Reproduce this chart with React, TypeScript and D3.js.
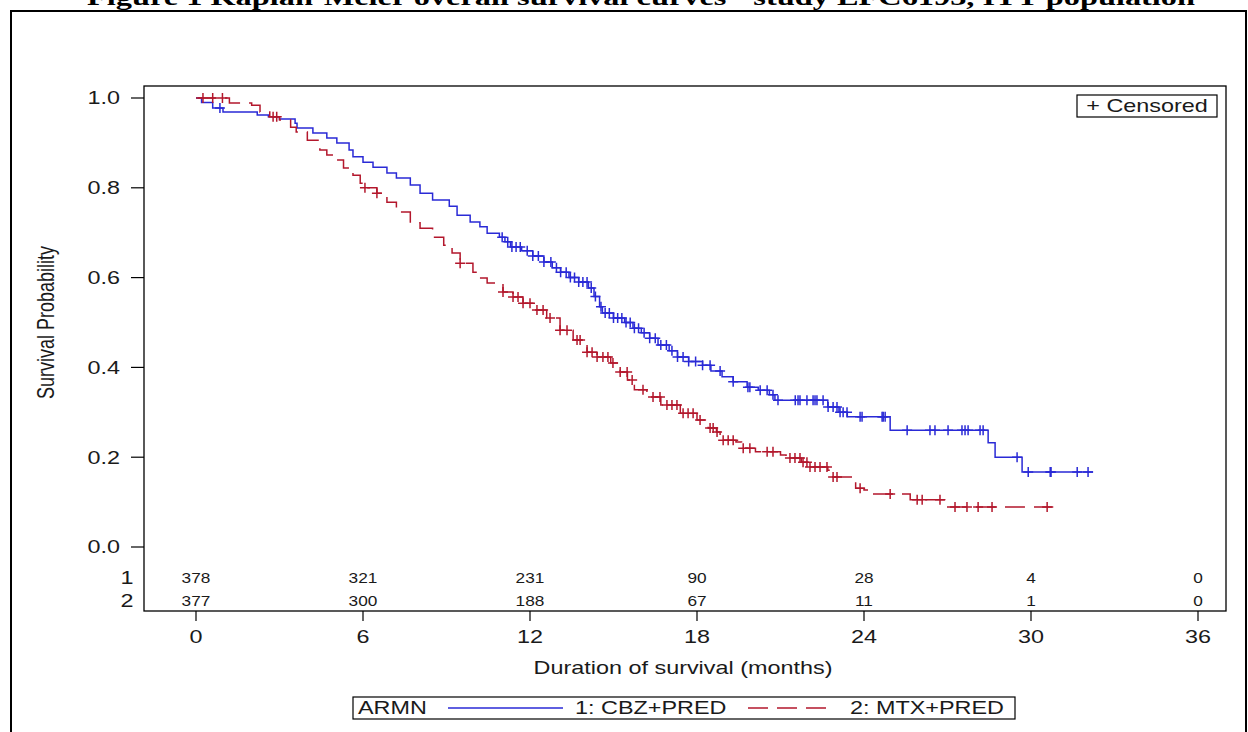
import React from "react";
import * as d3 from "d3";

// ---- data ----
const monthTicks = [0, 6, 12, 18, 24, 30, 36];
const survTicks = [0, 0.2, 0.4, 0.6, 0.8, 1.0];
const atRisk1 = [378, 321, 231, 90, 28, 4, 0];
const atRisk2 = [377, 300, 188, 67, 11, 1, 0];

// Arm 1: CBZ+PRED, step times (months) and survival after each step
const cbzTimes = [0, 0.2, 0.6, 0.97, 2.2, 2.6, 3.0, 3.56, 3.63, 4.2, 4.7, 5.06, 5.5, 5.64, 6.0, 6.36, 6.86, 7.2, 7.7, 8.05, 8.5, 9.1, 9.38, 9.85, 10.2, 10.46, 10.9, 11.1, 11.3, 11.7, 12.1, 12.5, 12.8, 13.1, 13.4, 13.75, 14.1, 14.3, 14.5, 14.6, 15.0, 15.4, 15.7, 16.0, 16.3, 16.6, 17.0, 17.3, 17.7, 18.2, 18.5, 18.9, 19.3, 19.8, 20.2, 20.6, 20.8, 22.7, 23.1, 23.4, 24.94, 28.46, 28.71, 29.68];
const cbzSurv = [1.0, 0.99, 0.978, 0.969, 0.962, 0.958, 0.953, 0.944, 0.933, 0.922, 0.911, 0.9, 0.884, 0.869, 0.857, 0.846, 0.833, 0.822, 0.806, 0.788, 0.773, 0.759, 0.739, 0.724, 0.713, 0.699, 0.69, 0.68, 0.668, 0.66, 0.648, 0.635, 0.622, 0.612, 0.6, 0.59, 0.577, 0.558, 0.535, 0.521, 0.51, 0.5, 0.487, 0.477, 0.465, 0.45, 0.437, 0.423, 0.413, 0.405, 0.392, 0.379, 0.368, 0.356, 0.349, 0.339, 0.327, 0.312, 0.3, 0.29, 0.26, 0.232, 0.2, 0.167];
const cbzEnd = 32.23;
const cbzCensored = [0.86, 11.0, 11.2, 11.35, 11.5, 11.65, 11.9, 12.1, 12.3, 12.5, 12.75, 12.95, 13.1, 13.3, 13.45, 13.6, 13.75, 13.9, 14.05, 14.2, 14.35, 14.55, 14.7, 14.85, 15.0, 15.15, 15.3, 15.45, 15.6, 15.75, 15.9, 16.1, 16.3, 16.5, 16.7, 16.9, 17.1, 17.3, 17.5, 17.7, 17.95, 18.2, 18.47, 18.83, 19.3, 19.83, 19.9, 20.27, 20.52, 20.73, 20.91, 21.53, 21.63, 21.7, 21.95, 22.17, 22.24, 22.31, 22.53, 22.71, 22.89, 23.03, 23.14, 23.25, 23.39, 23.86, 23.93, 24.65, 24.69, 24.76, 25.55, 26.37, 26.55, 27.02, 27.52, 27.63, 27.74, 28.17, 28.28, 29.5, 29.9, 30.69, 30.72, 31.66, 32.05];

// Arm 2: MTX+PRED
const mtxTimes = [0, 1.2, 2.0, 2.3, 2.65, 3.0, 3.4, 3.6, 4.0, 4.45, 4.7, 5.06, 5.3, 5.64, 5.9, 6.07, 6.5, 6.86, 7.2, 7.7, 8.05, 8.5, 8.9, 9.2, 9.49, 9.95, 10.2, 10.46, 11.03, 11.39, 11.75, 12.1, 12.6, 13.08, 13.55, 14.05, 14.41, 14.9, 15.24, 15.5, 15.75, 16.2, 16.7, 17.4, 18.0, 18.4, 18.7, 18.83, 19.4, 19.6, 20.1, 21.0, 21.2, 21.75, 22.0, 22.7, 22.8, 23.6, 23.7, 24.0, 24.2, 25.66, 26.9];
const mtxSurv = [1.0, 0.989, 0.984, 0.969, 0.958, 0.951, 0.935, 0.924, 0.906, 0.884, 0.873, 0.862, 0.844, 0.828, 0.81, 0.8, 0.788, 0.768, 0.746, 0.722, 0.71, 0.69, 0.672, 0.655, 0.632, 0.612, 0.599, 0.588, 0.568, 0.557, 0.543, 0.528, 0.51, 0.483, 0.461, 0.434, 0.423, 0.41, 0.39, 0.372, 0.35, 0.334, 0.316, 0.298, 0.283, 0.265, 0.256, 0.238, 0.234, 0.22, 0.212, 0.205, 0.198, 0.189, 0.178, 0.171, 0.156, 0.145, 0.131, 0.127, 0.118, 0.105, 0.089];
const mtxEnd = 30.8;
const mtxCensored = [0.25, 0.6, 0.95, 2.77, 2.9, 6.07, 6.5, 9.49, 11.03, 11.39, 11.57, 11.75, 12.0, 12.25, 12.47, 12.72, 13.08, 13.33, 13.69, 13.8, 14.05, 14.23, 14.41, 14.62, 14.8, 14.98, 15.24, 15.49, 15.67, 16.06, 16.42, 16.67, 16.92, 17.1, 17.28, 17.5, 17.68, 17.86, 18.11, 18.47, 18.58, 18.72, 18.94, 19.12, 19.3, 19.66, 19.9, 20.52, 20.73, 21.34, 21.52, 21.7, 21.81, 21.95, 22.06, 22.24, 22.42, 22.67, 22.89, 23.03, 23.86, 24.94, 25.91, 26.09, 26.73, 27.27, 27.7, 28.1, 28.6, 30.58];

const BLUE = "#2a2ad6";
const RED = "#b3172c";
const FONT = "'Liberation Sans', Arial, sans-serif";
const SX = 1.3;

function survAt(times: number[], surv: number[], t: number) {
  const i = d3.bisectRight(times, t) - 1;
  return surv[Math.max(0, i)];
}

function Txt({ x, y, size = 18, anchor = "middle", sx = SX, fill = "#1a1a1a", children }: any) {
  return (
    <text
      transform={`translate(${x},${y}) scale(${sx},1)`}
      textAnchor={anchor}
      dy="0.35em"
      fontSize={size}
      fontFamily={FONT}
      fill={fill}
    >
      {children}
    </text>
  );
}

export default function App() {
  const x = d3.scaleLinear().domain([0, 36]).range([196, 1198]);
  const y = d3.scaleLinear().domain([0, 1]).range([547, 98]);
  const frame = { left: 144, top: 86, right: 1226, bottom: 611 };

  const line = d3
    .line<[number, number]>()
    .x((d) => x(d[0]))
    .y((d) => y(d[1]))
    .curve(d3.curveStepAfter);

  const mk = (times: number[], surv: number[], end: number) => {
    const pts: [number, number][] = times.map((t, i) => [t, surv[i]]);
    pts.push([end, surv[surv.length - 1]]);
    return line(pts) || "";
  };

  const cross = (t: number, s: number, color: string, key: string) => {
    const cx = x(t);
    const cy = y(s);
    const h = 5;
    return (
      <path
        key={key}
        d={`M${cx - h},${cy}H${cx + h}M${cx},${cy - h}V${cy + h}`}
        stroke={color}
        strokeWidth={1.5}
        fill="none"
      />
    );
  };

  return (
    <svg
      width={1248}
      height={732}
      style={{ position: "absolute", left: 0, top: 0, background: "#fff" }}
    >
      <rect x={0} y={0} width={1248} height={732} fill="#fff" />
      {/* title (clipped at top) */}
      <text
        x={641}
        y={5}
        textAnchor="middle"
        fontFamily="'Liberation Serif', 'Times New Roman', serif"
        fontWeight="bold"
        fontSize={24}
        textLength={1108}
        lengthAdjust="spacingAndGlyphs"
        fill="#000"
      >
        Figure 1 Kaplan-Meier overall survival curves - study EFC6193, ITT population
      </text>
      {/* outer frame */}
      <rect x={11} y={11} width={1235} height={800} fill="none" stroke="#000" strokeWidth={2} />

      {/* plot frame */}
      <rect
        x={frame.left}
        y={frame.top}
        width={frame.right - frame.left}
        height={frame.bottom - frame.top}
        fill="none"
        stroke="#000"
        strokeWidth={1.3}
      />

      {/* y axis */}
      {survTicks.map((v) => (
        <g key={"y" + v}>
          <line x1={131} x2={frame.left} y1={y(v)} y2={y(v)} stroke="#000" strokeWidth={1.2} />
          <Txt x={120} y={y(v)} anchor="end">
            {v.toFixed(1)}
          </Txt>
        </g>
      ))}
      <text
        transform={`translate(46,${(y(0) + y(1)) / 2}) rotate(-90) scale(1,1.3)`}
        textAnchor="middle"
        dy="0.35em"
        fontSize={18}
        fontFamily={FONT}
        fill="#1a1a1a"
      >
        Survival Probability
      </text>

      {/* x axis */}
      {monthTicks.map((m) => (
        <g key={"x" + m}>
          <line x1={x(m)} x2={x(m)} y1={frame.bottom} y2={frame.bottom + 10} stroke="#000" strokeWidth={1.2} />
          <Txt x={x(m)} y={637}>
            {m}
          </Txt>
        </g>
      ))}
      <Txt x={683} y={668}>
        Duration of survival (months)
      </Txt>

      {/* at-risk table */}
      <Txt x={127} y={578}>1</Txt>
      <Txt x={127} y={601}>2</Txt>
      {monthTicks.map((m, i) => (
        <g key={"r" + m}>
          <Txt x={x(m)} y={578} size={15} sx={1.15}>
            {atRisk1[i]}
          </Txt>
          <Txt x={x(m)} y={601} size={15} sx={1.15}>
            {atRisk2[i]}
          </Txt>
        </g>
      ))}

      {/* curves */}
      <path d={mk(cbzTimes, cbzSurv, cbzEnd)} fill="none" stroke={BLUE} strokeWidth={1.5} />
      <path
        d={mk(mtxTimes, mtxSurv, mtxEnd)}
        fill="none"
        stroke={RED}
        strokeWidth={1.5}
        strokeDasharray="20,9"
      />
      {cbzCensored.map((t, i) => cross(t, survAt(cbzTimes, cbzSurv, t), BLUE, "cb" + i))}
      {mtxCensored.map((t, i) => cross(t, survAt(mtxTimes, mtxSurv, t), RED, "cm" + i))}

      {/* censored legend */}
      <rect x={1077} y={95} width={140} height={22} fill="#fff" stroke="#000" strokeWidth={1.2} />
      <Txt x={1147} y={106}>
        + Censored
      </Txt>

      {/* bottom legend */}
      <rect x={353} y={697} width={662} height={22} fill="#fff" stroke="#000" strokeWidth={1.2} />
      <Txt x={358} y={708} anchor="start">ARMN</Txt>
      <line x1={448} x2={563} y1={708} y2={708} stroke={BLUE} strokeWidth={1.5} />
      <Txt x={575} y={708} anchor="start">1: CBZ+PRED</Txt>
      <line x1={748} x2={835} y1={708} y2={708} stroke={RED} strokeWidth={1.5} strokeDasharray="20,9" />
      <Txt x={850} y={708} anchor="start">2: MTX+PRED</Txt>
    </svg>
  );
}
